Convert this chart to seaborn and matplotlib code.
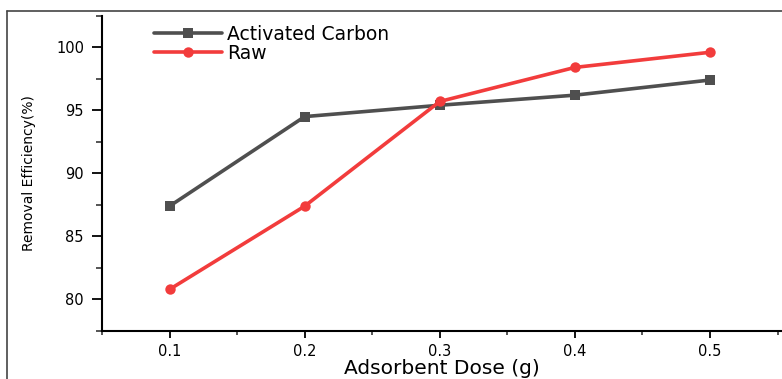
import matplotlib
matplotlib.use("Agg")
import matplotlib.pyplot as plt
from matplotlib.lines import Line2D
from matplotlib.ticker import MultipleLocator, FormatStrFormatter
import pandas as pd
import seaborn as sns

dose = [0.1, 0.2, 0.3, 0.4, 0.5]
activated_carbon = [87.4, 94.5, 95.4, 96.2, 97.4]
raw = [80.8, 87.4, 95.7, 98.4, 99.6]
series_names = ["Activated Carbon", "Raw"]
series_colors = ["#4f4f4f", "#f23c3c"]
series_markers = ["s", "o"]

df = pd.DataFrame({
    "dose": dose * 2,
    "eff": activated_carbon + raw,
    "series": [series_names[0]] * len(dose) + [series_names[1]] * len(dose),
})

sns.set_theme(style="ticks")
plt.rcParams["font.family"] = ["DejaVu Sans"]
plt.rcParams["text.color"] = "black"
plt.rcParams["axes.labelcolor"] = "black"

fig = plt.figure(figsize=(7.82, 3.79), dpi=100)
ax = fig.add_axes([102 / 782, 1 - 331 / 379, (781 - 102) / 782, (331 - 15.7) / 379])

sns.lineplot(data=df, x="dose", y="eff", hue="series", style="series",
             markers=dict(zip(series_names, series_markers)),
             dashes=False, palette=dict(zip(series_names, series_colors)),
             linewidth=2.6, markersize=7.5, markeredgewidth=0, ax=ax, legend=False)

ax.set_xlim(0.05, 0.5525)
ax.set_ylim(77.5, 102.5)
ax.xaxis.set_major_locator(MultipleLocator(0.1))
ax.xaxis.set_minor_locator(MultipleLocator(0.05))
ax.yaxis.set_major_locator(MultipleLocator(5))
ax.yaxis.set_minor_locator(MultipleLocator(2.5))
ax.xaxis.set_major_formatter(FormatStrFormatter("%.1f"))
ax.yaxis.set_major_formatter(FormatStrFormatter("%d"))

ax.tick_params(axis="y", which="major", direction="out", length=7, width=1.3,
               labelsize=10.5, colors="black", pad=6)
ax.tick_params(axis="y", which="minor", direction="out", length=4, width=1.1)
ax.tick_params(axis="x", which="major", direction="out", length=5, width=1.3,
               labelsize=10.5, colors="black", pad=4)
ax.tick_params(axis="x", which="minor", direction="out", length=3, width=1.1)
for side in ("top", "right"):
    ax.spines[side].set_visible(False)
for side in ("left", "bottom"):
    ax.spines[side].set_linewidth(1.5)
    ax.spines[side].set_color("black")

ax.set_xlabel("Adsorbent Dose (g)", fontsize=14.5, labelpad=0)
ax.set_ylabel("Removal Efficiency(%)", fontsize=10, labelpad=14)

handles = [Line2D([], [], color=c, marker=m, linewidth=2.6, markersize=7.5, markeredgewidth=0)
           for c, m in zip(series_colors, series_markers)]
fig.legend(handles, series_names, loc="upper left", bbox_to_anchor=(154 / 782, 1 - 25 / 379),
           frameon=False, fontsize=13.5, handlelength=3.6, handletextpad=0.3,
           labelspacing=0.0, borderaxespad=0, borderpad=0, labelcolor="black")

# outer frame lines along the left and top edges
fig.add_artist(Line2D([7 / 782, 7 / 782], [0, 1 - 11 / 379], transform=fig.transFigure,
                      color="#444444", linewidth=1.2))
fig.add_artist(Line2D([7 / 782, 1], [1 - 11 / 379, 1 - 11 / 379], transform=fig.transFigure,
                      color="#444444", linewidth=1.2))

fig.savefig("out.png", dpi=100)
